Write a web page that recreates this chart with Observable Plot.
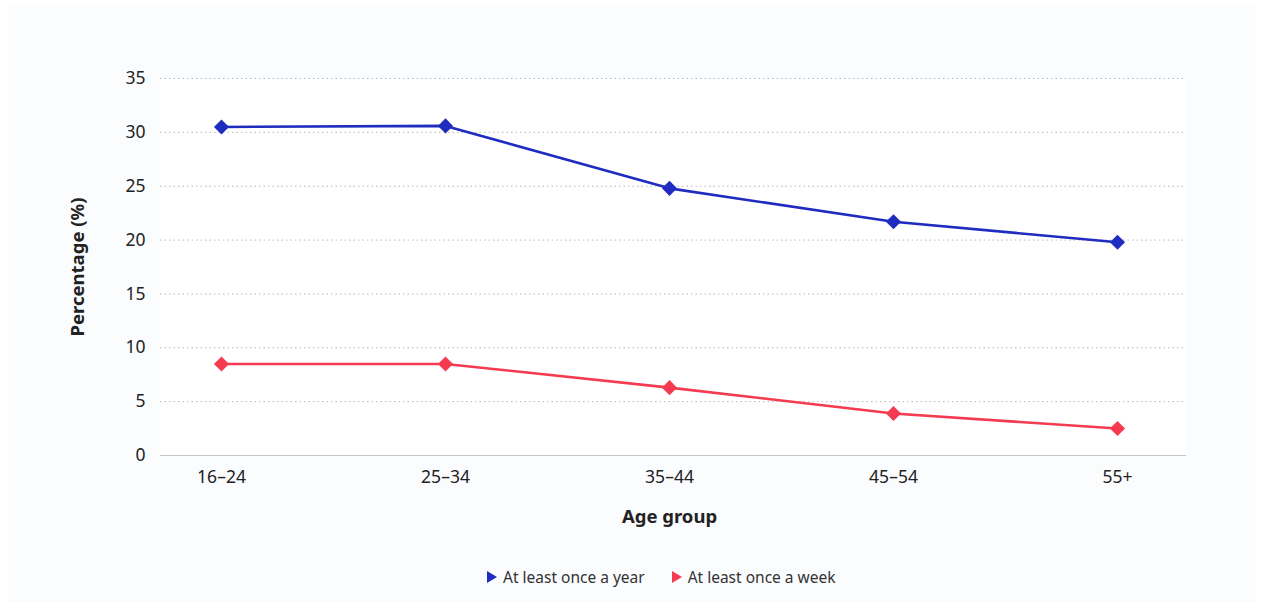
<!DOCTYPE html>
<html>
<head>
<meta charset="utf-8">
<script src="https://cdn.jsdelivr.net/npm/d3@7"></script>
<script src="https://cdn.jsdelivr.net/npm/@observablehq/plot@0.6"></script>
<style>
  body { margin: 0; background: #ffffff; font-family: "Noto Sans", sans-serif; }
  #panel { position: absolute; left: 8px; top: 5px; width: 1248px; height: 597px; background: #fbfcfe; }
  #chart { position: absolute; left: 0; top: 0; }
  #legend { position: absolute; left: 479px; top: 561px; display: flex; gap: 27px; font-size: 15.5px; color: #333; }
  .item { display: flex; align-items: center; gap: 6px; }
</style>
</head>
<body>
<div id="panel">
  <div id="chart"></div>
  <div id="legend"></div>
</div>
<script>
const ageGroups = ["16–24", "25–34", "35–44", "45–54", "55+"];
const seriesNames = ["At least once a year", "At least once a week"];
const yearValues = [30.5, 30.6, 24.8, 21.7, 19.8];
const weekValues = [8.5, 8.5, 6.3, 3.9, 2.5];
const seriesColors = ["#1f2cbf", "#f53b50"];
const yTicks = [0, 5, 10, 15, 20, 25, 30, 35];

const data = [];
ageGroups.forEach((g, i) => {
  data.push({age: g, value: yearValues[i], series: seriesNames[0]});
  data.push({age: g, value: weekValues[i], series: seriesNames[1]});
});

const chart = Plot.plot({
  width: 1248,
  height: 540,
  marginLeft: 152,
  marginRight: 70,
  marginTop: 73,
  marginBottom: 90,
  style: { background: "transparent", fontFamily: "Noto Sans, sans-serif", fontSize: "17.5px", color: "#222" },
  x: { type: "point", domain: ageGroups, padding: 0, insetLeft: 61, insetRight: 69 },
  y: { domain: [0, 35] },
  color: { domain: seriesNames, range: seriesColors },
  marks: [
    Plot.frame({ fill: "#ffffff", stroke: null }),
    Plot.gridY(yTicks.filter(d => d > 0), { stroke: "#b8b8b8", strokeOpacity: 1, strokeDasharray: "1.5,3", strokeWidth: 1 }),
    Plot.ruleY([0], { stroke: "#c4c4c4", strokeWidth: 1.2 }),
    Plot.axisY(yTicks, { tickSize: 0, tickPadding: 15, label: null, fontSize: 17.5, fill: "#222" }),
    Plot.axisX({ tickSize: 0, tickPadding: 15, label: null, fontSize: 17.5, fill: "#222" }),
    Plot.text(["Percentage (%)"], { frameAnchor: "left", dx: -82, rotate: -90, fontWeight: "bold", fontSize: 18.5, fill: "#222", textAnchor: "middle" }),
    Plot.text(["Age group"], { x: () => ageGroups[2], frameAnchor: "bottom", dy: 67, fontWeight: "bold", fontSize: 18.5, fill: "#222" }),
    Plot.line(data, { x: "age", y: "value", stroke: "series", z: "series", strokeWidth: 2.6 }),
    Plot.dot(data, { x: "age", y: "value", fill: "series", symbol: "diamond2", r: 6.8, stroke: null })
  ]
});
document.getElementById("chart").appendChild(chart);

const legend = document.getElementById("legend");
seriesNames.forEach((name, i) => {
  const item = document.createElement("div");
  item.className = "item";
  item.innerHTML = `<svg width="10" height="12"><path d="M0,0 L10,6 L0,12 Z" fill="${seriesColors[i]}"/></svg><span>${name}</span>`;
  legend.appendChild(item);
});
</script>
</body>
</html>
